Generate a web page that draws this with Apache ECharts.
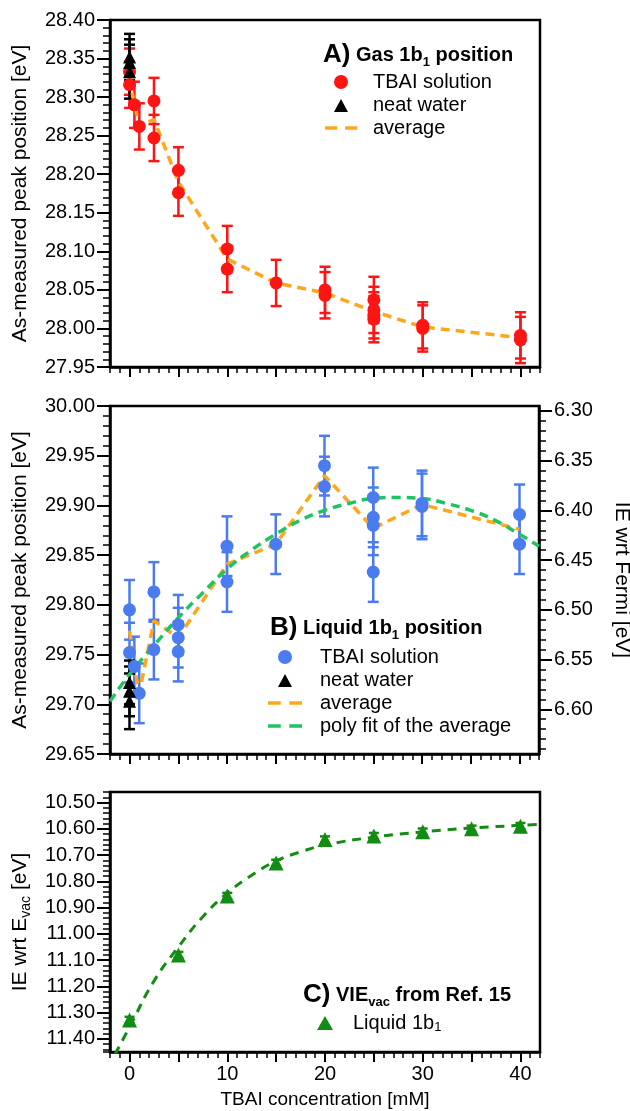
<!DOCTYPE html>
<html>
<head>
<meta charset="utf-8">
<script src="https://cdn.jsdelivr.net/npm/echarts@6/dist/echarts.min.js"></script>
<style>html,body{margin:0;padding:0;background:#fff}#c{width:630px;height:1111px}</style>
</head>
<body>
<div id="c"></div>
<script>
// ---------- Panel A: gas 1b1 position ----------
const gasSolX   = [0, 0, 0.5, 1, 2.5, 2.5, 5, 5, 10, 10, 15, 20, 20, 25, 25, 25, 25, 30, 30, 40, 40];
const gasSolY   = [28.333, 28.316, 28.290, 28.262, 28.295, 28.247, 28.205, 28.176, 28.103, 28.077, 28.059, 28.050, 28.043, 28.037, 28.024, 28.017, 28.012, 28.004, 28.000, 27.991, 27.985];
const gasSolErr = [0.03, 0.03, 0.03, 0.03, 0.03, 0.03, 0.03, 0.03, 0.03, 0.03, 0.03, 0.03, 0.03, 0.03, 0.03, 0.03, 0.03, 0.03, 0.03, 0.03, 0.03];
const gasWatX   = [0, 0, 0];
const gasWatY   = [28.352, 28.345, 28.333];
const gasWatErr = [0.03, 0.03, 0.035];
const gasAvgX   = [0, 0.5, 1, 2.5, 5, 10, 15, 20, 25, 30, 40];
const gasAvgY   = [28.325, 28.290, 28.262, 28.271, 28.190, 28.090, 28.059, 28.046, 28.022, 28.002, 27.988];

// ---------- Panel B: liquid 1b1 position ----------
const liqSolX   = [0, 0, 0.5, 1, 2.5, 2.5, 5, 5, 5, 10, 10, 15, 20, 20, 25, 25, 25, 25, 30, 30, 40, 40];
const liqSolY   = [29.795, 29.752, 29.738, 29.711, 29.813, 29.755, 29.780, 29.767, 29.753, 29.859, 29.823, 29.861, 29.940, 29.919, 29.908, 29.888, 29.880, 29.833, 29.902, 29.899, 29.891, 29.861];
const liqSolErr = [0.03, 0.03, 0.03, 0.03, 0.03, 0.03, 0.03, 0.03, 0.03, 0.03, 0.03, 0.03, 0.03, 0.03, 0.03, 0.03, 0.03, 0.03, 0.033, 0.033, 0.03, 0.03];
const liqWatX   = [0, 0, 0];
const liqWatY   = [29.722, 29.713, 29.703];
const liqWatErr = [0.022, 0.025, 0.028];
const liqAvgX   = [0, 0.5, 1, 2.5, 5, 10, 15, 20, 25, 30, 40];
const liqAvgY   = [29.774, 29.738, 29.711, 29.784, 29.767, 29.841, 29.861, 29.930, 29.877, 29.901, 29.876];
const liqFitX   = [-2, 0, 2.5, 5, 7.5, 10, 12.5, 15, 17.5, 20, 22.5, 25, 27.5, 30, 32.5, 35, 37.5, 40, 42];
const liqFitY   = [29.703, 29.730, 29.759, 29.787, 29.812, 29.836, 29.855, 29.871, 29.885, 29.895, 29.902, 29.907, 29.908, 29.907, 29.902, 29.895, 29.885, 29.871, 29.859];

// ---------- Panel C: VIE_vac from Ref. 15 ----------
const vieX      = [0, 5, 10, 15, 20, 25, 30, 35, 40];
const vieY      = [11.328, 11.081, 10.856, 10.730, 10.641, 10.628, 10.611, 10.600, 10.590];
const vieErr    = [0.012, 0.012, 0.012, 0.012, 0.012, 0.012, 0.012, 0.012, 0.012];
const vieFitX   = [-1.5, 0, 2.5, 5, 7.5, 10, 12.5, 15, 17.5, 20, 25, 30, 35, 40, 42];
const vieFitY   = [11.46, 11.355, 11.18, 11.05, 10.935, 10.845, 10.777, 10.723, 10.688, 10.662, 10.632, 10.612, 10.597, 10.587, 10.583];

// ---------- ticks / labels ----------
const xMajorTicks = [0, 5, 10, 15, 20, 25, 30, 35, 40];
const xLabelVals  = [0, 10, 20, 30, 40];
const aYMajor = [27.95, 28.00, 28.05, 28.10, 28.15, 28.20, 28.25, 28.30, 28.35, 28.40];
const bYMajor = [29.65, 29.70, 29.75, 29.80, 29.85, 29.90, 29.95, 30.00];
const bRMajor = [6.30, 6.35, 6.40, 6.45, 6.50, 6.55, 6.60];
const cYMajor = [10.50, 10.60, 10.70, 10.80, 10.90, 11.00, 11.10, 11.20, 11.30, 11.40];

function steps(a, b, step, dec) {
  const out = [];
  const n = Math.round((b - a) / step);
  for (let i = 0; i <= n; i++) out.push(+(a + i * step).toFixed(dec));
  return out;
}
const bRMinor = steps(6.30, 6.64, 0.01, 2);

const FONT = 'Liberation Sans, Arial, Helvetica, sans-serif';
const RED = '#ff1414', BLUE = '#4a7cf0', ORANGE = '#ffa61a', GREENB = '#1fc462', GREENC = '#138c13';
const dashIcon = 'path://M0,0L12,0L12,3.5L0,3.5Z M20,0L32,0L32,3.5L20,3.5Z';
const triIcon  = 'path://M0,14L0,14Z M32,0L32,0Z M9,14L16,1L23,14Z';
const triIconC = 'path://M0,14L0,14Z M32,0L32,0Z M8,14L16,0L24,14Z';

const legendText = {
  'A-sol': 'TBAI solution', 'A-wat': 'neat water', 'A-avg': 'average',
  'B-sol': 'TBAI solution', 'B-wat': 'neat water', 'B-avg': 'average', 'B-fit': 'poly fit of the average',
  'C-vie': 'Liquid 1b{s|1}'
};

function zip(xs, ys) { return xs.map((x, i) => [x, ys[i]]); }
function zip3(xs, ys, es) { return xs.map((x, i) => [x, ys[i], es[i]]); }

const hiddenLine = { show: true, onZero: false, lineStyle: { color: '#000', width: 0.01, opacity: 0 } };

function xAxesFor(gi, showLabels, name) {
  return [{
    type: 'value', gridIndex: gi, position: 'bottom', min: -2, max: 42,
    axisLine: { show: true, onZero: false, lineStyle: { color: '#000', width: 2.5 } },
    axisTick: { show: true, customValues: xMajorTicks, length: 10, lineStyle: { color: '#000', width: 2 } },
    axisLabel: { show: showLabels, customValues: xLabelVals, margin: 12, fontSize: 20, color: '#000', fontFamily: FONT },
    splitLine: { show: false },
    name: name || '', nameLocation: 'middle', nameGap: 38,
    nameTextStyle: { fontSize: 19, color: '#000', fontFamily: FONT }
  }, {
    type: 'value', gridIndex: gi, position: 'bottom', min: -2, max: 42, interval: 1,
    axisLine: hiddenLine,
    axisTick: { show: true, length: 6, lineStyle: { color: '#000', width: 1.5 } },
    axisLabel: { show: false }, splitLine: { show: false }
  }];
}

// minorSpec: {interval} (min must be a multiple) or {values}
function yAxesFor(gi, pos, min, max, inverse, major, minorSpec, name, nameGap, nameRotate, nameRich) {
  const main = {
    type: 'value', gridIndex: gi, position: pos, min: min, max: max, inverse: inverse,
    axisLine: { show: true, onZero: false, lineStyle: { color: '#000', width: 2.5 } },
    axisTick: { show: true, customValues: major, length: 13, lineStyle: { color: '#000', width: 2 } },
    axisLabel: { show: true, customValues: major, margin: 15, fontSize: 20, color: '#000', fontFamily: FONT,
      formatter: v => Number(v).toFixed(2) },
    splitLine: { show: false },
    name: name, nameLocation: 'middle', nameGap: nameGap,
    nameTextStyle: { fontSize: 21, color: '#000', fontFamily: FONT, lineHeight: 26, rich: nameRich || {} }
  };
  if (nameRotate !== undefined) main.nameRotate = nameRotate;
  const mn = {
    type: 'value', gridIndex: gi, position: pos, min: min, max: max, inverse: inverse,
    axisLine: hiddenLine,
    axisTick: { show: true, length: 7, lineStyle: { color: '#000', width: 1.5 } },
    axisLabel: { show: false }, splitLine: { show: false }
  };
  if (minorSpec.interval) {
    mn.interval = minorSpec.interval;
  } else {
    mn.axisTick.customValues = minorSpec.values;
    mn.axisLabel.customValues = minorSpec.values;
  }
  return [main, mn];
}

function errSeries(xs, ys, es, color, xi, yi, lw, cap) {
  return {
    type: 'custom', xAxisIndex: xi, yAxisIndex: yi, silent: true, z: 2,
    data: zip3(xs, ys, es), encode: { x: 0, y: 1 },
    renderItem: function (params, api) {
      const x = api.value(0), y = api.value(1), e = api.value(2);
      const p1 = api.coord([x, y - e]);
      const p2 = api.coord([x, y + e]);
      const st = { stroke: color, lineWidth: lw };
      return {
        type: 'group', children: [
          { type: 'line', shape: { x1: p1[0], y1: p1[1], x2: p2[0], y2: p2[1] }, style: st },
          { type: 'line', shape: { x1: p1[0] - cap, y1: p1[1], x2: p1[0] + cap, y2: p1[1] }, style: st },
          { type: 'line', shape: { x1: p2[0] - cap, y1: p2[1], x2: p2[0] + cap, y2: p2[1] }, style: st }
        ]
      };
    }
  };
}
function scat(name, xs, ys, color, symbol, size, xi, yi, z) {
  return { name: name, type: 'scatter', xAxisIndex: xi, yAxisIndex: yi, symbol: symbol, symbolSize: size,
    itemStyle: { color: color, opacity: 1 }, data: zip(xs, ys), z: z, silent: true };
}
function dline(name, xs, ys, color, width, dash, smooth, xi, yi) {
  return { name: name, type: 'line', xAxisIndex: xi, yAxisIndex: yi, data: zip(xs, ys), symbol: 'none',
    showSymbol: false, smooth: smooth, lineStyle: { color: color, width: width, type: dash },
    itemStyle: { color: color }, z: 3, silent: true };
}

const subRich = { s: { fontSize: 13, lineHeight: 14, verticalAlign: 'bottom', fontFamily: FONT, color: '#000' } };
function legendFor(left, top, lineH, padLeft, itemW, data) {
  return {
    orient: 'vertical', left: left, top: top, itemWidth: itemW, itemHeight: 14, itemGap: 3,
    selectedMode: false, symbolKeepAspect: true, padding: 0,
    formatter: n => legendText[n],
    textStyle: { fontSize: 20, color: '#000', fontFamily: FONT, lineHeight: lineH, padding: [0, 0, 0, padLeft], rich: subRich },
    data: data
  };
}
const titleRich = {
  a: { fontSize: 26, fontWeight: 'bold', lineHeight: 28, fontFamily: FONT, color: '#000' },
  b: { fontSize: 20, fontWeight: 'bold', lineHeight: 28, fontFamily: FONT, color: '#000' },
  s: { fontSize: 13, fontWeight: 'bold', lineHeight: 16, verticalAlign: 'bottom', fontFamily: FONT, color: '#000' }
};
function titleFor(left, top, text) {
  return { left: left, top: top, padding: 0, text: text,
    textStyle: { fontSize: 20, fontWeight: 'bold', lineHeight: 28, fontFamily: FONT, color: '#000', rich: titleRich } };
}

const xAx = [].concat(xAxesFor(0, false), xAxesFor(1, false), xAxesFor(2, true, 'TBAI concentration [mM]'));
const yAx = [].concat(
  yAxesFor(0, 'left', 27.95, 28.40, false, aYMajor, { interval: 0.01 }, 'As-measured peak position [eV]', 77),
  yAxesFor(1, 'left', 29.65, 30.00, false, bYMajor, { interval: 0.01 }, 'As-measured peak position [eV]', 77),
  yAxesFor(1, 'right', 6.295, 6.645, true, bRMajor, { values: bRMinor }, 'IE wrt Fermi [eV]', 70, -90),
  yAxesFor(2, 'left', 10.46, 11.45, true, cYMajor, { interval: 0.02 }, 'IE wrt E{s|vac} [eV]', 77, undefined,
    { s: { fontSize: 14, lineHeight: 16, verticalAlign: 'bottom', fontFamily: FONT, color: '#000' } })
);

const gridBase = { show: true, borderColor: '#000', borderWidth: 2.5, containLabel: false, outerBoundsMode: 'none' };
const option = {
  backgroundColor: '#fff',
  animation: false,
  textStyle: { fontFamily: FONT },
  grid: [
    Object.assign({ left: 110, top: 20, width: 430, height: 347 }, gridBase),
    Object.assign({ left: 110, top: 406, width: 429, height: 348 }, gridBase),
    Object.assign({ left: 110, top: 792, width: 430, height: 260 }, gridBase)
  ],
  xAxis: xAx,
  yAxis: yAx,
  title: [
    titleFor(323, 41, '{a|A)}{b| Gas 1b}{s|1}{b| position}'),
    titleFor(270, 614, '{a|B)}{b| Liquid 1b}{s|1}{b| position}'),
    titleFor(303, 981, '{a|C)}{b| VIE}{s|vac}{b| from Ref. 15}')
  ],
  legend: [
    legendFor(325, 72, 20, 11, 32, [
      { name: 'A-sol', icon: 'circle', itemStyle: { color: RED } },
      { name: 'A-wat', icon: triIcon, itemStyle: { color: '#000' } },
      { name: 'A-avg', icon: dashIcon, itemStyle: { color: ORANGE } }
    ]),
    legendFor(268, 647, 20, 13, 34, [
      { name: 'B-sol', icon: 'circle', itemStyle: { color: BLUE } },
      { name: 'B-wat', icon: triIcon, itemStyle: { color: '#000' } },
      { name: 'B-avg', icon: dashIcon, itemStyle: { color: ORANGE } },
      { name: 'B-fit', icon: dashIcon, itemStyle: { color: GREENB } }
    ]),
    legendFor(309, 1012, 22, 7, 32, [
      { name: 'C-vie', icon: triIconC, itemStyle: { color: GREENC } }
    ])
  ],
  series: [
    // A  (x axes 0/1, y axes 0/1)
    errSeries(gasSolX, gasSolY, gasSolErr, RED, 0, 0, 2.5, 5.5),
    errSeries(gasWatX, gasWatY, gasWatErr, '#000', 0, 0, 2.5, 5.5),
    dline('A-avg', gasAvgX, gasAvgY, ORANGE, 3.5, [9, 6], false, 0, 0),
    scat('A-sol', gasSolX, gasSolY, RED, 'circle', 13, 0, 0, 4),
    scat('A-wat', gasWatX, gasWatY, '#000', 'triangle', 13, 0, 0, 5),
    // B  (x axes 2/3, y axes 2/3 left, 4/5 right)
    errSeries(liqSolX, liqSolY, liqSolErr, BLUE, 2, 2, 2.5, 5.5),
    errSeries(liqWatX, liqWatY, liqWatErr, '#000', 2, 2, 2.5, 5.5),
    dline('B-avg', liqAvgX, liqAvgY, ORANGE, 3.5, [9, 6], false, 2, 2),
    dline('B-fit', liqFitX, liqFitY, GREENB, 3.5, [9, 6], true, 2, 2),
    scat('B-sol', liqSolX, liqSolY, BLUE, 'circle', 13, 2, 2, 4),
    scat('B-wat', liqWatX, liqWatY, '#000', 'triangle', 13, 2, 2, 5),
    // C  (x axes 4/5, y axes 6/7)
    errSeries(vieX, vieY, vieErr, GREENC, 4, 6, 2.5, 5),
    dline('C-fit', vieFitX, vieFitY, GREENC, 3, [9, 7], true, 4, 6),
    scat('C-vie', vieX, vieY, GREENC, 'triangle', 15, 4, 6, 4)
  ]
};

const chart = echarts.init(document.getElementById('c'), null, { renderer: 'canvas', width: 630, height: 1111 });
chart.setOption(option);
</script>
</body>
</html>
